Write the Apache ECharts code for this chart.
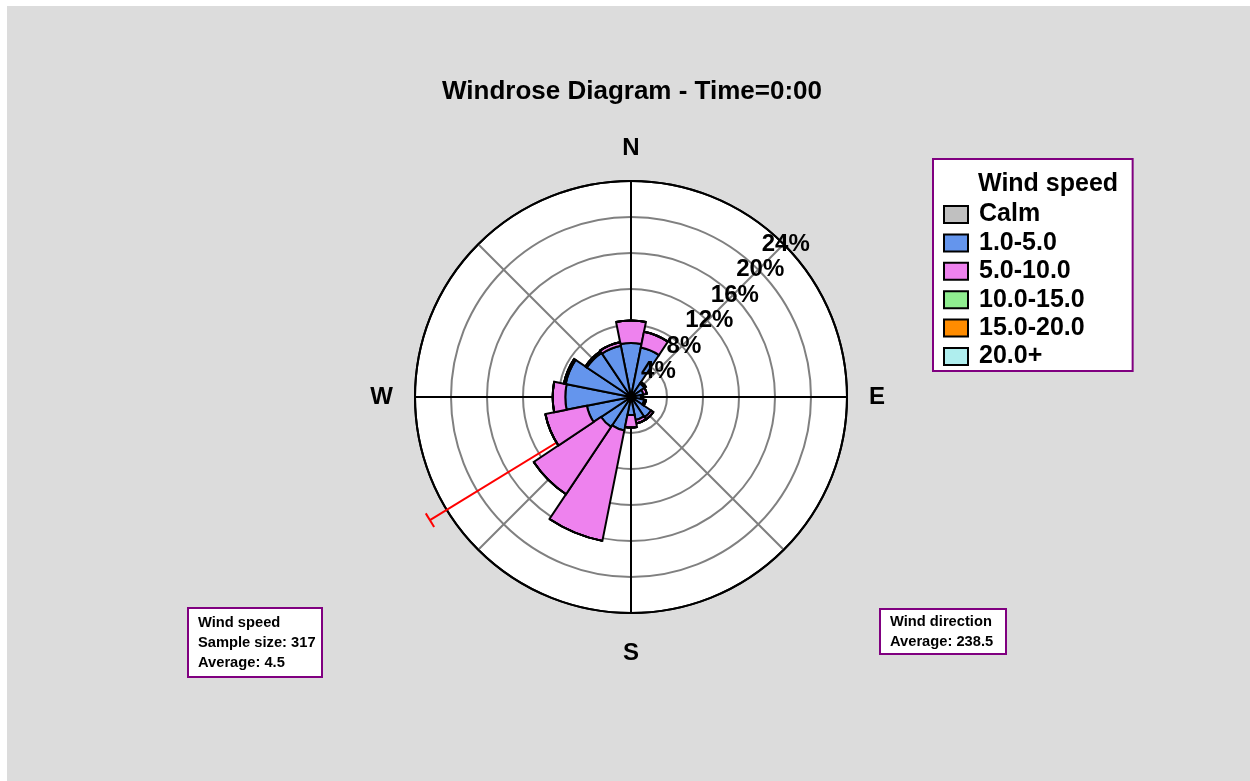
<!DOCTYPE html>
<html>
<head>
<meta charset="utf-8">
<title>Windrose Diagram - Time=0:00</title>
<script src="https://cdn.jsdelivr.net/npm/echarts@6/dist/echarts.min.js"></script>
<style>
  html, body { margin: 0; background: #fff; }
  #grafico { position: absolute; left: 7px; top: 6px; width: 1243px; height: 775px; background: #dcdcdc; }
</style>
</head>
<body>
<div id="grafico"></div>
<script>
// Rosa dos ventos: 16 direções, % de ocorrência empilhado por faixa de velocidade.
const directions = ["N", "NNE", "NE", "ENE", "E", "ESE", "SE", "SSE", "S", "SSW", "SW", "WSW", "W", "WNW", "NW", "NNW"];
const speedBins = ["Calm", "1.0-5.0", "5.0-10.0", "10.0-15.0", "15.0-20.0", "20.0+"];

const calm      = [0, 0, 0, 0, 0, 0, 0, 0, 0, 0, 0, 0, 0, 0, 0, 0];
const speed1to5 = [6.0, 5.6, 1.8, 1.4, 1.1, 1.5, 2.7, 2.6, 2.0, 3.8, 4.0, 5.0, 7.3, 7.4, 5.9, 5.8];
const speed5to10 = [2.5, 1.8, 0.2, 0.4, 0.2, 0.2, 0.3, 0.4, 1.4, 12.5, 9.0, 4.7, 1.4, 0.2, 0.2, 0.4];
const speed10to15 = [0, 0, 0, 0, 0, 0, 0, 0, 0, 0, 0, 0, 0, 0, 0, 0];
const speed15to20 = [0, 0, 0, 0, 0, 0, 0, 0, 0, 0, 0, 0, 0, 0, 0, 0];
const speed20plus = [0, 0, 0, 0, 0, 0, 0, 0, 0, 0, 0, 0, 0, 0, 0, 0];

const ringMax = 24;       // % no círculo externo
const ringStep = 4;
const compass = { 0: "N", 90: "E", 180: "S", 270: "W" };

const sampleSize = 317;
const speedAverage = 4.5;
const directionAverage = 238.5;
const meanArrowLength = 26.2; // % (passa do círculo externo)

const COLORS = ["#c0c0c0", "#6495ed", "#ee82ee", "#90ee90", "#ff8c00", "#afeeee"];
const FONTE = "'Liberation Sans', Arial, sans-serif";
const CENTRO = [624, 391];
const RAIO = 216;
const ESCALA_SETA = 30; // eixo mais longo só para a seta não ser cortada

const g = echarts.init(document.getElementById("grafico"));

const binValues = [calm, speed1to5, speed5to10, speed10to15, speed15to20, speed20plus];
const negrito = (size, extra = {}) => ({ fontFamily: FONTE, fontWeight: "bold", fontSize: size, color: "#000", ...extra });

const caixa = { backgroundColor: "#fff", borderColor: "#800080", borderWidth: 2 };
const CINZA = "#808080";
const semEixo = { axisLine: { show: false }, axisTick: { show: false }, axisLabel: { show: false }, splitLine: { show: false } };

g.setOption({
  animation: false,
  textStyle: { fontFamily: FONTE },
  title: [
    { text: "Windrose Diagram - Time=0:00", left: 435, top: 73, padding: 0, textStyle: negrito(26) },
    { text: "Wind speed", left: 971, top: 166, padding: 0, z: 10, textStyle: negrito(25, { lineHeight: 24 }) },
    {
      text: `Wind speed\nSample size: ${sampleSize}\nAverage: ${speedAverage}`,
      left: 181, top: 602, padding: [5, 7, 4, 10], ...caixa,
      textStyle: negrito(14.7, { lineHeight: 20 }),
    },
    {
      text: `Wind direction\nAverage: ${directionAverage}`,
      left: 873, top: 603, padding: [3, 13, 2, 10], ...caixa,
      textStyle: negrito(14.7, { lineHeight: 20 }),
    },
  ],
  legend: {
    orient: "vertical",
    left: 926,
    top: 153,
    data: speedBins,
    icon: "rect",
    itemWidth: 24,
    itemHeight: 17,
    itemGap: 3.4,
    selectedMode: false,
    padding: [43, 48, 2, 10],
    ...caixa,
    textStyle: negrito(25, { lineHeight: 24, padding: [0, 0, 0, 6] }),
  },
  polar: [
    { center: CENTRO, radius: RAIO },
    { center: CENTRO, radius: RAIO },
    { center: CENTRO, radius: RAIO },
    { center: CENTRO, radius: RAIO * ESCALA_SETA / ringMax },
  ],
  angleAxis: [
    {
      // grade: raios N/E/S/W pretos, diagonais cinza, círculo externo
      polarIndex: 0, type: "value", min: 0, max: 360, interval: 45, startAngle: 90, clockwise: true, z: 1,
      axisLine: { lineStyle: { color: "#000", width: 2 } },
      axisTick: { show: false },
      axisLabel: { margin: 21, padding: [7, 1, 0, 1], formatter: (v) => compass[v] ?? "", ...negrito(24) },
      splitLine: { lineStyle: { color: ["#000", CINZA], width: 2 } },
    },
    {
      polarIndex: 1, type: "category", data: directions, startAngle: 90 + 360 / directions.length / 2,
      clockwise: true, show: false,
    },
    { polarIndex: 2, type: "value", min: 0, max: 360, startAngle: 45, show: false },
    { polarIndex: 3, type: "value", min: 0, max: 360, startAngle: 90, clockwise: true, show: false },
  ],
  radiusAxis: [
    {
      polarIndex: 0, min: 0, max: ringMax, interval: ringStep, z: 1,
      axisLine: { show: false }, axisTick: { show: false }, axisLabel: { show: false },
      splitLine: { lineStyle: { color: [CINZA, CINZA, CINZA, CINZA, CINZA, CINZA, "#000"], width: 2 } },
    },
    {
      // fundo branco do círculo, abaixo da grade
      polarIndex: 1, min: 0, max: ringMax, z: 0, ...semEixo,
      splitArea: { show: true, areaStyle: { color: ["#fff"] } },
    },
    {
      // rótulos de % ao longo da diagonal NE, por cima das barras
      polarIndex: 2, min: 0, max: ringMax, interval: ringStep, z: 10,
      axisLine: { show: false }, axisTick: { show: false }, splitLine: { show: false },
      axisLabel: {
        showMinLabel: false, margin: 0, align: "center", verticalAlign: "middle",
        padding: [5, 0, 0, 4], formatter: "{value}%", ...negrito(24),
      },
    },
    { polarIndex: 3, min: 0, max: ESCALA_SETA, show: false },
  ],
  series: [
    ...speedBins.map((name, i) => ({
      name,
      type: "bar",
      coordinateSystem: "polar",
      polarIndex: 1,
      stack: "vento",
      barCategoryGap: "0%",
      z: 3,
      silent: true,
      data: binValues[i],
      itemStyle: { color: COLORS[i], borderColor: "#000", borderWidth: 2 },
    })),
    {
      // direção média
      type: "line",
      coordinateSystem: "polar",
      polarIndex: 3,
      z: 2,
      silent: true,
      lineStyle: { color: "#ff0000", width: 2 },
      itemStyle: { color: "#ff0000" },
      data: [
        { value: [0, directionAverage], symbol: "none" },
        { value: [meanArrowLength, directionAverage], symbol: "rect", symbolSize: [2, 16], symbolRotate: 270 - directionAverage },
      ],
    },
  ],
});
</script>
</body>
</html>
